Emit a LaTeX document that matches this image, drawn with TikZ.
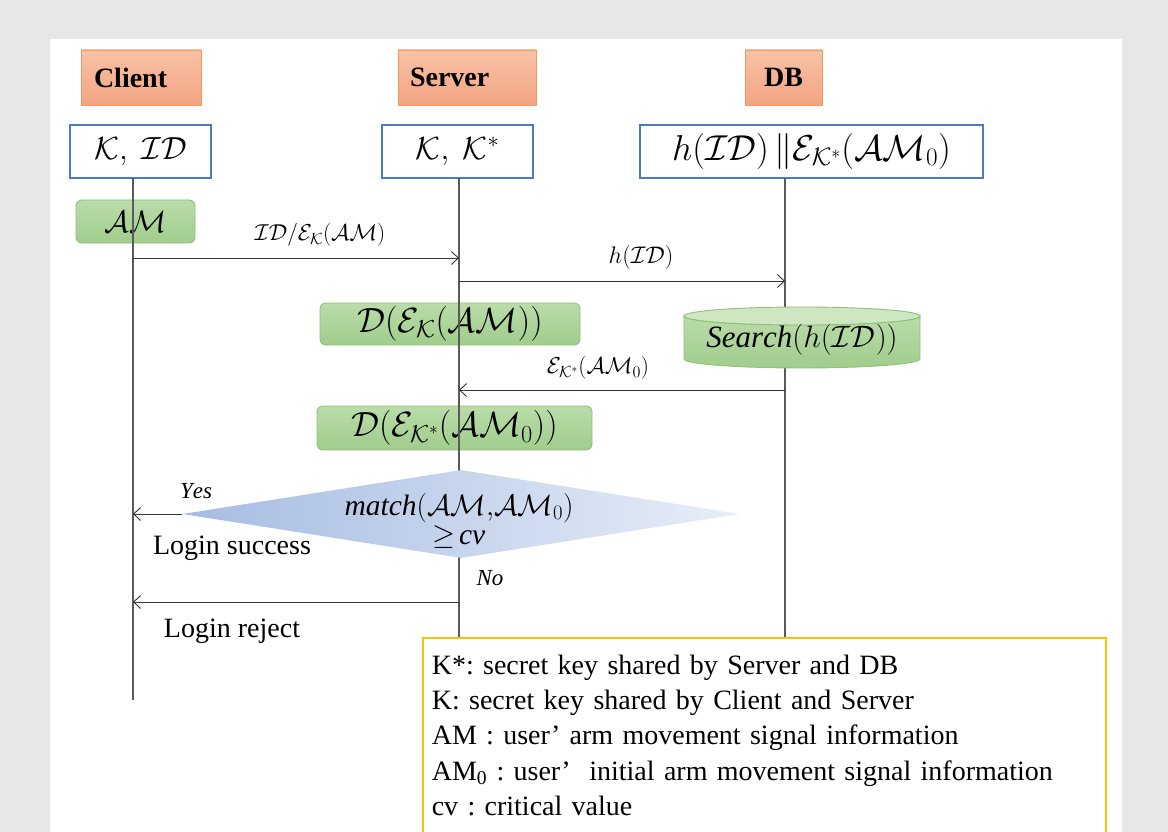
\RequirePackage{fix-cm}
\documentclass[tikz,border=0pt]{standalone}
\usepackage{fontspec}
\setmainfont{Liberation Serif}
\usetikzlibrary{arrows.meta,shapes.geometric}
\definecolor{bggray}{HTML}{E7E7E7}
\definecolor{orTop}{HTML}{F8C2A6}
\definecolor{orBot}{HTML}{F3A482}
\definecolor{orLine}{HTML}{F0995A}
\definecolor{keyblue}{HTML}{4A7AC8}
\definecolor{grTop}{HTML}{BADCAA}
\definecolor{grBot}{HTML}{A0CD8C}
\definecolor{grLine}{HTML}{8DC277}
\definecolor{diaL}{HTML}{A6BCE2}
\definecolor{diaR}{HTML}{E8EEF8}
\definecolor{legLine}{HTML}{FFC000}
\definecolor{lifegray}{HTML}{5A5A5A}
\newcommand{\fs}[1]{\fontsize{#1}{#1}\selectfont}
\frenchspacing
\begin{document}
\begin{tikzpicture}[x=1pt,y=-1pt,
  actor/.style={draw=orLine, line width=0.9pt, top color=orTop, bottom color=orBot,
    inner sep=0pt, font=\fs{28}\bfseries},
  keybox/.style={draw=keyblue, line width=1.3pt, fill=white, inner sep=0pt, font=\fs{32}},
  opbox/.style={draw=grLine, line width=0.9pt, top color=grTop, bottom color=grBot,
    rounded corners=6pt, inner sep=0pt, font=\fs{35}},
  lifeline/.style={draw=lifegray, line width=1.1pt},
  msg/.style={draw=black!80, line width=0.9pt,
    -{Straight Barb[length=7pt,width=13pt,line width=0.9pt]}},
  lbl/.style={font=\fs{23}, inner sep=0pt},
  plain/.style={font=\fs{28}, inner sep=0pt}
]
\fill[bggray] (0,0) rectangle (1168,832);
\fill[white] (50,39) rectangle (1122,832);
\useasboundingbox (0,0) rectangle (1168,832);

% actors
\node[actor, minimum width=120pt, minimum height=55pt, text width=94pt, align=left,
  inner xsep=13pt] (client) at (141,77.5) {Client};
\node[actor, minimum width=138pt, minimum height=55pt, text width=114pt, align=left,
  inner xsep=12pt] (server) at (467,77.5) {Server};
\node[actor, minimum width=77pt, minimum height=55pt] (db) at (783.5,77.5) {DB};

% key boxes
\node[keybox, minimum width=141pt, minimum height=53pt] (ckey) at (140.5,151.5)
  {$\mathcal{K},\ \mathcal{I}\mathcal{D}$};
\node[keybox, minimum width=151pt, minimum height=53pt] (skey) at (457.5,151.5)
  {$\mathcal{K},\ \mathcal{K}^{*}$};
\node[keybox, minimum width=343pt, minimum height=53pt, font=\fs{36}] (dkey) at (811.5,151.5)
  {$h(\mathcal{I}\mathcal{D})\,\|\mathcal{E}_{\mathcal{K}^{*}}(\mathcal{A}\mathcal{M}_{0})$};

% operation boxes
\node[opbox, minimum width=119pt, minimum height=43pt, font=\fs{31}] (am) at (135.5,221.5)
  {$\mathcal{A}\mathcal{M}$};
\node[opbox, minimum width=260pt, minimum height=42pt] (dec1) at (450,324)
  {$\mathcal{D}(\mathcal{E}_{\mathcal{K}}(\mathcal{A}\mathcal{M}))$};
\node[opbox, minimum width=275pt, minimum height=44pt] (dec2) at (454.5,428)
  {$\mathcal{D}(\mathcal{E}_{\mathcal{K}^{*}}(\mathcal{A}\mathcal{M}_{0}))$};

% lifelines
\coordinate (cT) at (133,178); \coordinate (cB) at (133,700);
\coordinate (sT) at (459,178); \coordinate (sB) at (459,637);
\coordinate (dT) at (785,178); \coordinate (dB) at (785,637);
\draw[lifeline] (cT) -- (cB);
\draw[lifeline] (sT) -- (sB);
\draw[lifeline] (dT) -- (dB);

% search cylinder
\shade[top color=grTop, bottom color=grBot, draw=grLine, line width=0.9pt]
  (684,316) -- (684,359) arc[start angle=180, end angle=360, x radius=118pt, y radius=9pt]
  -- (920,316) arc[start angle=0, end angle=-180, x radius=118pt, y radius=9pt] -- cycle;
\fill[fill=grTop!70!white, draw=grLine, line width=0.9pt] (802,316)
  ellipse[x radius=118pt, y radius=9pt];
\node[font=\fs{31}, inner sep=0pt] (search) at (802,340)
  {$\mathit{Search}(h(\mathcal{I}\mathcal{D}))$};

% decision diamond
\node[diamond, inner sep=0pt, minimum width=557pt, minimum height=88pt,
  left color=diaL, right color=diaR, draw=none] (dec) at (461,514) {};
\node[font=\fs{29.5}, align=center, inner sep=0pt] (dectext) at (459,521)
  {$\mathit{match}(\mathcal{A}\mathcal{M}{,}\mathcal{A}\mathcal{M}_{0})$\\[0pt]
   $\geq\!\mathit{cv}$};

% messages
\coordinate (m1a) at (133,258); \coordinate (m1b) at (459,258);
\draw[msg] (m1a) -- (m1b);
\node[lbl] (m1l) at (320,235) {$\mathcal{I}\mathcal{D}/\mathcal{E}_{\mathcal{K}}(\mathcal{A}\mathcal{M})$};

\coordinate (m2a) at (459,281); \coordinate (m2b) at (785,281);
\draw[msg] (m2a) -- (m2b);
\node[lbl, font=\fs{24}] (m2l) at (641,258) {$h(\mathcal{I}\mathcal{D})$};

\coordinate (m3a) at (785,390); \coordinate (m3b) at (459,390);
\draw[msg] (m3a) -- (m3b);
\node[lbl] (m3l) at (598,368) {$\mathcal{E}_{\mathcal{K}^{*}}(\mathcal{A}\mathcal{M}_{0})$};

\coordinate (yesE) at (133,514);
\draw[msg] (dec.west) -- (yesE);
\node[lbl] (yes) at (196,491) {$\mathit{Yes}$};
\node[plain] (succ) at (232,548) {Login success};

\node[lbl] (no) at (490,578) {$\mathit{No}$};
\coordinate (m5a) at (459,602); \coordinate (m5b) at (133,602);
\draw[msg] (m5a) -- (m5b);
\node[plain] (rej) at (232,631) {Login reject};

% legend
\node[draw=legLine, line width=1.6pt, fill=white, anchor=north west,
  minimum width=683pt, minimum height=195pt, text width=665pt, align=left,
  inner xsep=9pt, inner ysep=6pt, font=\fontsize{28}{35.3}\selectfont] (legend) at (422,637)
  {K*: secret key shared by Server and DB\\
   K: secret key shared by Client and Server\\
   AM : user’ arm movement signal information\\
   AM\textsubscript{0} : user’~ initial arm movement signal information\\
   cv : critical value};
\end{tikzpicture}
\end{document}
